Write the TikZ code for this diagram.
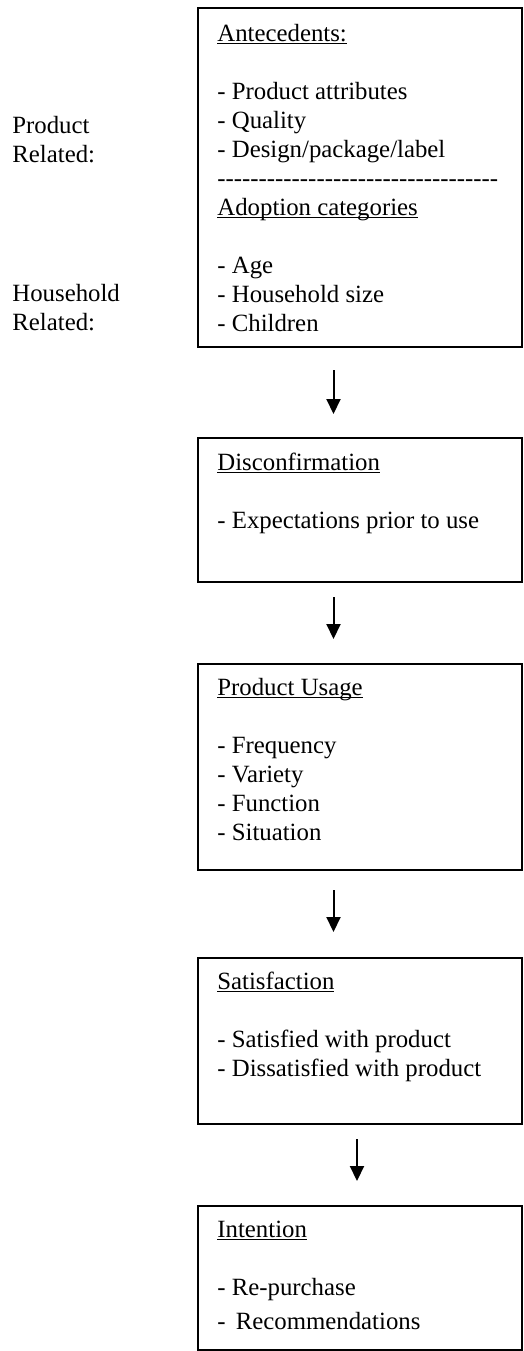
\documentclass[tikz,border=0pt]{standalone}
\usepackage{fontspec}
\setmainfont{Liberation Serif}
\usetikzlibrary{arrows.meta}

% underlined heading, rule set just below the baseline
\newcommand\headline[1]{\setbox0=\hbox{#1}\rlap{\rule[-1.7pt]{\wd0}{0.7pt}}\box0}
% row of single hyphens (kern stops the dash ligatures)
\newcommand\dashrow{\foreach\k in {1,...,34}{-\kern0pt}}

\begin{document}
\begin{tikzpicture}[
        x=0.5pt, y=-0.5pt,
        stage/.style={draw, line width=1pt, anchor=north west, minimum width=162pt, inner sep=0pt},
        items/.style={anchor=base west, align=left, inner sep=0pt, font=\fontsize{12.4}{14.5}\selectfont},
        flow/.style={-{Triangle[width=7pt,length=7.5pt]}, line width=1pt}
    ]
        \useasboundingbox (0,0) rectangle (524,1351);

        % Boxes
        \node[stage, minimum height=169.5pt] (ante) at (197,7) {};
        \node[stage, minimum height=72pt] (disc) at (197,437) {};
        \node[stage, minimum height=103pt] (usage) at (197,663) {};
        \node[stage, minimum height=83pt] (satis) at (197,957) {};
        \node[stage, minimum height=72pt] (inten) at (197,1205) {};

        % Box contents (placed by the baseline of their last line)
        \node[items] (anteText) at (217,331) {\headline{Antecedents:}\\ \\
            - Product attributes\\ - Quality\\ - Design/package/label\\
            \dashrow\\ \headline{Adoption categories}\\ \\
            - Age\\ - Household size\\ - Children};
        \node[items] (discText) at (217,528) {\headline{Disconfirmation}\\ \\
            - Expectations prior to use};
        \node[items] (usageText) at (217,840) {\headline{Product Usage}\\ \\
            - Frequency\\ - Variety\\ - Function\\ - Situation};
        \node[items] (satisText) at (217,1076) {\headline{Satisfaction}\\ \\
            - Satisfied with product\\ - Dissatisfied with product};
        \node[items] (intenText) at (217,1329) {\headline{Intention}\\ \\
            - Re-purchase\\[2.5pt] -\hspace{2pt} Recommendations};

        % Side labels
        \node[items] (prodLabel) at (12,162) {Product\\ Related:};
        \node[items] (houseLabel) at (12,330) {Household\\ Related:};

        % Arrows
        \draw[flow, shorten <=11pt, shorten >=11.5pt] ([xshift=-13.25pt]ante.south) -- ([xshift=-13.25pt]disc.north);
        \draw[flow, shorten <=7pt, shorten >=12pt] ([xshift=-13.25pt]disc.south) -- ([xshift=-13.25pt]usage.north);
        \draw[flow, shorten <=9.5pt, shorten >=12.5pt] ([xshift=-13.25pt]usage.south) -- ([xshift=-13.25pt]satis.north);
        \draw[flow, shorten <=7pt, shorten >=12pt] ([xshift=-1.5pt]satis.south) -- ([xshift=-1.5pt]inten.north);
    \end{tikzpicture}
\end{document}
